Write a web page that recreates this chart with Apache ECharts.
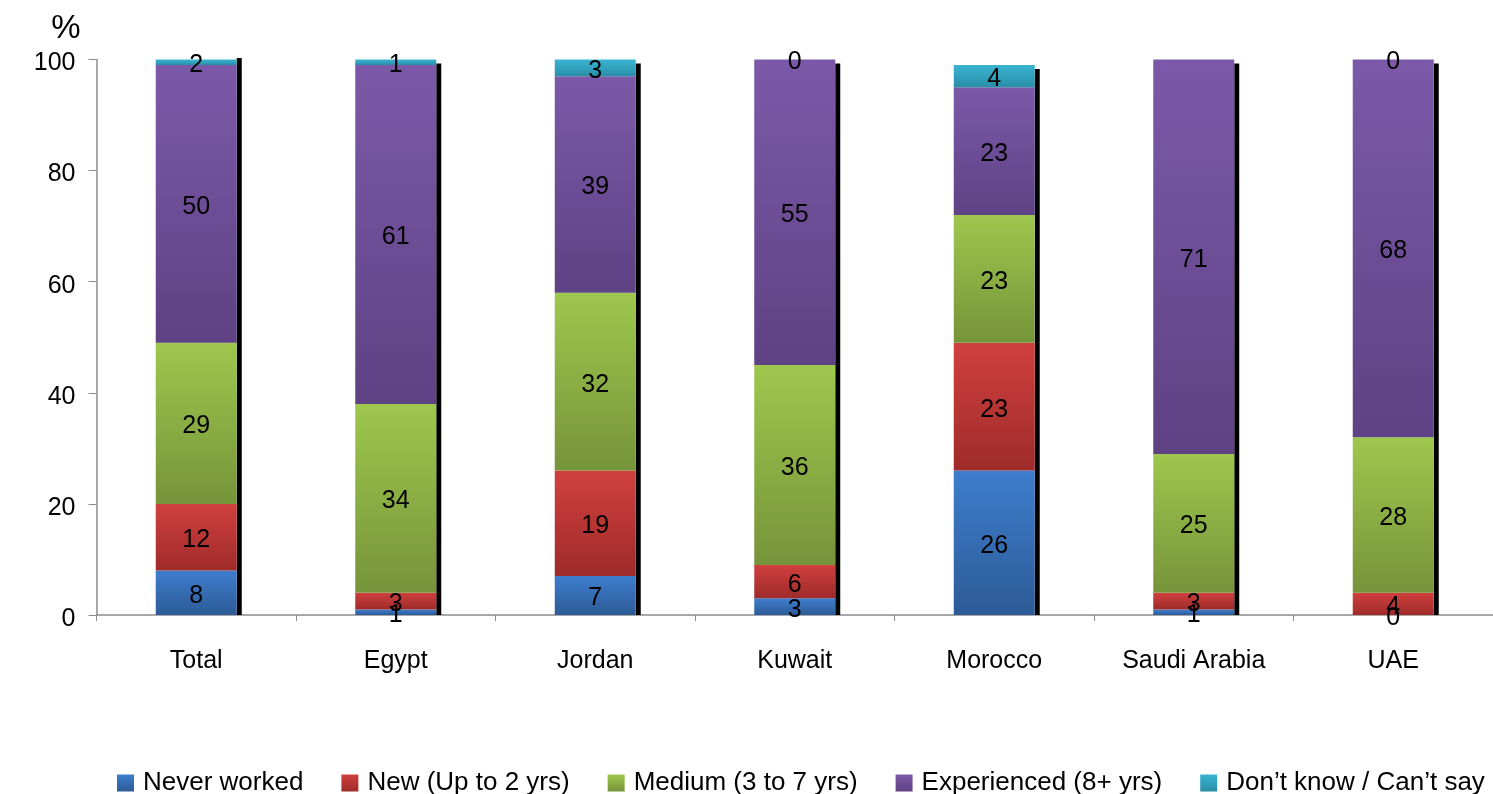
<!DOCTYPE html>
<html>
<head>
<meta charset="utf-8">
<script src="https://cdn.jsdelivr.net/npm/echarts@6/dist/echarts.min.js"></script>
<style>
html,body{margin:0;padding:0;background:#fff;}
#chart{width:1493px;height:794px;}
</style>
</head>
<body>
<div id="chart"></div>
<script>
var categories = ['Total', 'Egypt', 'Jordan', 'Kuwait', 'Morocco', 'Saudi Arabia', 'UAE'];
var seriesNames = ['Never worked', 'New (Up to 2 yrs)', 'Medium (3 to 7 yrs)', 'Experienced (8+ yrs)', 'Don\u2019t know / Can\u2019t say'];
var neverWorked = [8, 1, 7, 3, 26, 1, 0];
var newWorker   = [12, 3, 19, 6, 23, 3, 4];
var medium      = [29, 34, 32, 36, 23, 25, 28];
var experienced = [50, 61, 39, 55, 23, 71, 68];
var dontKnow    = [2, 1, 3, 0, 4, null, 0];
var yTicks = [0, 20, 40, 60, 80, 100];

var FONT = 'Liberation Sans';
var colorStops = [
  ['#3e7dcd', '#2d5b97'],
  ['#d0403e', '#9e2b2a'],
  ['#9ec74d', '#76943a'],
  ['#7c59a8', '#5e4284'],
  ['#39b4d3', '#2a8ea7']
];
function grad(c) {
  return new echarts.graphic.LinearGradient(0, 0, 0, 1, [
    {offset: 0, color: c[0]}, {offset: 1, color: c[1]}
  ]);
}
var allData = [neverWorked, newWorker, medium, experienced, dontKnow];
var totals = categories.map(function (_, i) {
  var s = 0;
  allData.forEach(function (arr) { s += (arr[i] || 0); });
  return s;
});

var BAR_W = 81;
var series = allData.map(function (arr, k) {
  return {
    name: seriesNames[k],
    type: 'bar',
    stack: 'all',
    barWidth: BAR_W,
    data: arr,
    z: 3,
    itemStyle: {color: grad(colorStops[k])},
    label: {
      show: true,
      position: 'inside',
      offset: [0, 3],
      color: '#000',
      fontFamily: FONT,
      fontSize: 25
    }
  };
});

series.unshift({
  name: 'shadow',
  type: 'custom',
  z: 1,
  silent: true,
  data: totals.map(function (t, i) { return [i, t]; }),
  renderItem: function (params, api) {
    var top = api.coord([api.value(0), api.value(1)]);
    var base = api.coord([api.value(0), 0]);
    return {
      type: 'rect',
      shape: {x: top[0] + BAR_W / 2, y: top[1] + 4, width: 5, height: base[1] - top[1] - 4},
      style: {fill: '#000'}
    };
  }
});

var chart = echarts.init(document.getElementById('chart'));
chart.setOption({
  animation: false,
  backgroundColor: '#fff',
  textStyle: {fontFamily: FONT},
  grid: {left: 96.5, right: -2, top: 59.5, bottom: 179, containLabel: false},
  legend: {
    data: seriesNames,
    left: 112,
    top: 765,
    itemWidth: 17,
    itemHeight: 17,
    itemGap: 38,
    icon: 'rect',
    textStyle: {fontFamily: FONT, fontSize: 26, color: '#000', padding: [0, 0, 0, 4]}
  },
  xAxis: {
    type: 'category',
    data: categories,
    axisLine: {lineStyle: {color: '#8c8c8c', width: 1.5}},
    axisTick: {show: true, length: 6, alignWithLabel: false, lineStyle: {color: '#8c8c8c'}},
    axisLabel: {color: '#000', fontFamily: FONT, fontSize: 25, margin: 34}
  },
  yAxis: {
    type: 'value',
    min: 0,
    max: 100,
    interval: 20,
    name: '%',
    nameLocation: 'end',
    nameGap: 14,
    nameTextStyle: {color: '#000', fontFamily: FONT, fontSize: 33, align: 'right', padding: [0, 16, 0, 0]},
    axisLine: {show: true, lineStyle: {color: '#8c8c8c', width: 1.5}},
    axisTick: {show: true, length: 8, lineStyle: {color: '#8c8c8c'}},
    splitLine: {show: false},
    axisLabel: {
      color: '#000', fontFamily: FONT, fontSize: 25, margin: 21,
      verticalAlign: 'top', lineHeight: 8,
      formatter: function (v) { return yTicks.indexOf(v) >= 0 ? String(v) : ''; }
    }
  },
  series: series
});
</script>
</body>
</html>
